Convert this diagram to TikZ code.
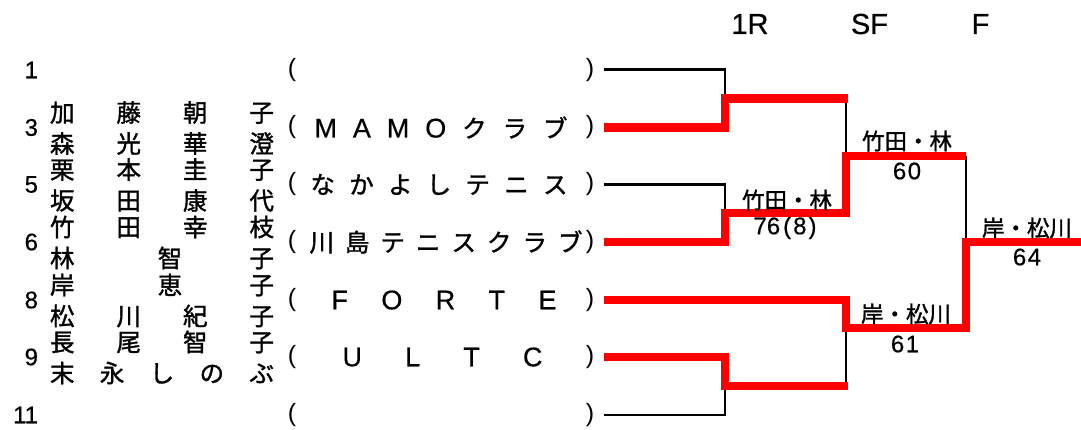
\documentclass[tikz,border=0pt]{standalone}
\usepackage{fontspec}
\setmainfont{Liberation Sans}
\newfontfamily\jp{Noto Sans CJK JP}[FakeBold=1.3]
\newfontfamily\lab{Liberation Sans}[FakeBold=0.5]
\newcommand\distr[2]{\hbox to #1pt{#2}}
\newcommand\latl[1]{{\lab\fontsize{27}{27}\selectfont #1}}
\begin{document}
\begin{tikzpicture}[x=1pt,y=-1pt,
 every node/.style={inner sep=0pt,outer sep=0pt},
 num/.style={anchor=east,font=\lab\fontsize{24}{24}\selectfont},
 nm/.style={font=\jp\fontsize{24.5}{24.5}\selectfont},
 team/.style={font=\jp\fontsize{24.5}{24.5}\selectfont},
 par/.style={font=\fontsize{25}{25}\selectfont},
 hdr/.style={font=\lab\fontsize{29}{29}\selectfont},
 lbl/.style={font=\jp\fontsize{22.5}{22.5}\selectfont},
 sc/.style={font=\lab\fontsize{24}{24}\selectfont},
 thinline/.style={draw=black,line width=2.2pt},
 win/.style={draw=red,line width=8.3pt,line join=miter}]
\useasboundingbox (0,0) rectangle (1081,429);
% headers
\node[hdr] (h1) at (750,24) {1R};
\node[hdr] (h2) at (869.5,24) {SF};
\node[hdr] (h3) at (980.5,24) {F};
% seed numbers
\node[num] (n1) at (38,70) {1};
\node[num] (n3) at (38,127.5) {3};
\node[num] (n5) at (38,184.5) {5};
\node[num] (n6) at (38,242) {6};
\node[num] (n8) at (38,300) {8};
\node[num] (n9) at (38,357) {9};
\node[num] (n11) at (38,415) {11};
% player names
\node[nm] (p3a) at (162,112.5) {\distr{224}{加\hfill 藤\hfill 朝\hfill 子}};
\node[nm] (p3b) at (162,143.5) {\distr{224}{森\hfill 光\hfill 華\hfill 澄}};
\node[nm] (p5a) at (162,169.5) {\distr{224}{栗\hfill 本\hfill 圭\hfill 子}};
\node[nm] (p5b) at (162,200.5) {\distr{224}{坂\hfill 田\hfill 康\hfill 代}};
\node[nm] (p6a) at (162,227) {\distr{224}{竹\hfill 田\hfill 幸\hfill 枝}};
\node[nm] (p6b) at (162,258) {\distr{224}{林\hfill\hskip16pt 智\hfill 子}};
\node[nm] (p8a) at (162,285) {\distr{224}{岸\hfill\hskip16pt 恵\hfill 子}};
\node[nm] (p8b) at (162,316) {\distr{224}{松\hfill 川\hfill 紀\hfill 子}};
\node[nm] (p9a) at (162,342) {\distr{224}{長\hfill 尾\hfill 智\hfill 子}};
\node[nm] (p9b) at (162,373) {\distr{224}{末\hfill 永\hfill し\hfill の\hfill ぶ}};
% brackets
\foreach \r/\y in {1/70,3/127.5,5/184.5,6/242,8/300,9/357,11/415}{
  \node[par] (lp\r) at (292,\y) {(};
  \node[par] (rp\r) at (590,\y) {)};
}
% teams
\node[team] (t3) at (441,127.5) {\distr{253}{\latl{M}\hfill \latl{A}\hfill \latl{M}\hfill \latl{O}\hfill ク\hfill ラ\hfill ブ}};
\node[team] (t5) at (439,184.5) {\distr{257}{な\hfill か\hfill よ\hfill し\hfill テ\hfill ニ\hfill ス}};
\node[team] (t6) at (446,242) {\distr{273}{川\hfill 島\hfill テ\hfill ニ\hfill ス\hfill ク\hfill ラ\hfill ブ}};
\node[team] (t8) at (444,300) {\distr{225}{\latl{F}\hfill \latl{O}\hfill \latl{R}\hfill \latl{T}\hfill \latl{E}}};
\node[team] (t9) at (442.5,357) {\distr{200}{\latl{U}\hfill \latl{L}\hfill \latl{T}\hfill \latl{C}}};
% bracket coordinates
\coordinate (s1) at (604,69.5);
\coordinate (s3) at (604,127.5);
\coordinate (s5) at (604,184.5);
\coordinate (s6) at (604,242);
\coordinate (s8) at (604,300);
\coordinate (s9) at (604,357);
\coordinate (s11) at (604,415);
\coordinate (m1) at (725,98.5);
\coordinate (m2) at (725,213);
\coordinate (m3) at (725,386);
\coordinate (q1) at (846,98.5);
\coordinate (e1) at (847.5,98.5);
\coordinate (q2) at (846,213);
\coordinate (q3) at (846,386);
\coordinate (e3) at (847.5,386);
\coordinate (sf1) at (846,156);
\coordinate (sf2) at (846,328);
\coordinate (u1) at (966,156);
\coordinate (u2) at (966,328);
\coordinate (fin) at (966,242);
\coordinate (champ) at (1081,242);
% losers' lines
\draw[thinline] (s1) -| (m1);
\draw[thinline] (s5) -| (m2);
\draw[thinline] (s11) -| (m3);
\draw[thinline] (q1) -- (sf1);
\draw[thinline] (q3) -- (sf2);
\draw[thinline] (u1) -- (fin);
% winners' lines
\draw[win] (s3) -| (m1) -- (e1);
\draw[win] (s6) -| (m2) -- (q2) -- (sf1) -- (u1);
\draw[win] (s8) -| (sf2) -- (u2) -- (fin) -- (champ);
\draw[win] (s9) -| (m3) -- (e3);
% scores
\node[lbl] (w1) at (787,200) {竹田・林};
\node[sc] (w1s) at (785,228) {76\hspace{3pt}(\hspace{2pt}8\hspace{2pt})};
\node[lbl] (w2) at (907,141) {竹田・林};
\node[sc] (w2s) at (907,171) {6\hspace{1.5pt}0};
\node[lbl] (w3) at (906,314) {岸・松川};
\node[sc] (w3s) at (905,344) {6\hspace{1.5pt}1};
\node[lbl] (w4) at (1027,228) {岸・松川};
\node[sc] (w4s) at (1027,257) {6\hspace{1.5pt}4};
\end{tikzpicture}
\end{document}
